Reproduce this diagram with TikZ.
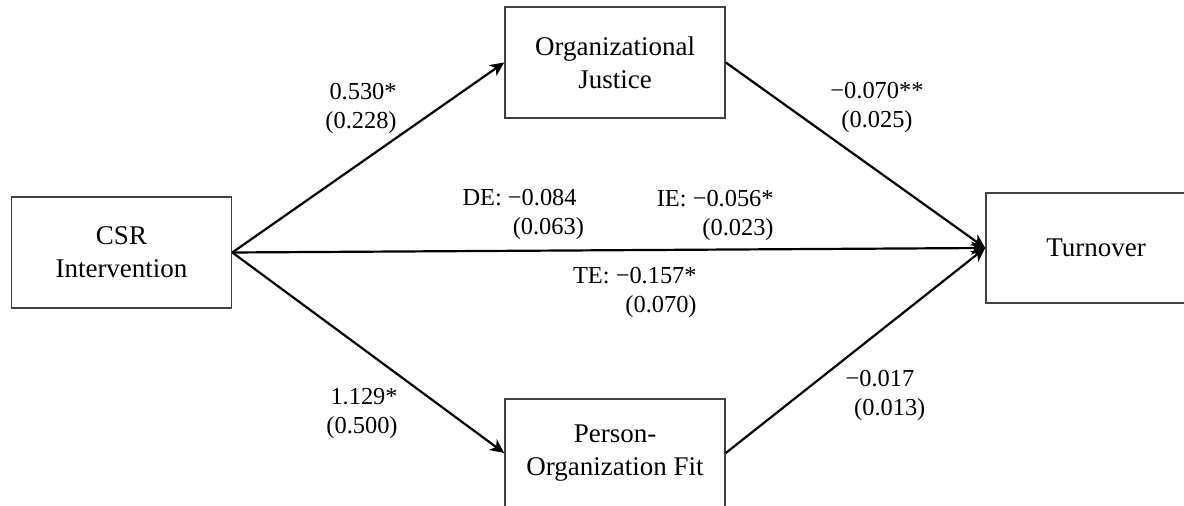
\documentclass[tikz,border=0pt]{standalone}
\usepackage{fontspec}
\setmainfont{Liberation Serif}
\usetikzlibrary{arrows.meta}

\begin{document}
\begin{tikzpicture}[
    x=0.5pt, y=-0.5pt,
    box/.style={draw=black!75, line width=0.8pt, minimum width=110pt,
                minimum height=55.5pt, inner sep=0pt, align=center,
                font=\fontsize{13.5}{16.5}\selectfont},
    lab/.style={inner sep=0pt, font=\fontsize{12.2}{14.5}\selectfont},
    arr/.style={-{Stealth[length=7pt,width=6.5pt,inset=2pt]},
                line width=1.1pt, black}
  ]
    \useasboundingbox (0,0) rectangle (1184,506);

    \node[box] (csr)  at (121.5,252.5) {CSR\\Intervention};
    \node[box] (oj)   at (615,62.5)    {Organizational\\Justice};
    \node[box, minimum height=54pt] (pof) at (615,453) {Person-\\Organization Fit};
    \node[box, minimum height=55pt] (turn) at (1096,248) {Turnover};

    \draw[arr] (csr.east) -- (oj.west);
    \draw[arr] (csr.east) -- (pof.west);
    \draw[arr] (csr.east) -- (turn.west);
    \draw[arr] (oj.east)  -- (turn.west);
    \draw[arr] (pof.east) -- (turn.west);

    % path coefficients
    \node[lab, align=right,  anchor=north east] (csroj)   at (397,83)  {0.530*\\(0.228)};
    \node[lab, align=center, anchor=north]      (ojturn)  at (877,82)  {−0.070**\\(0.025)};
    \node[lab, align=right,  anchor=north east] (csrpof)  at (398,388) {1.129*\\(0.500)};
    \node[lab, align=center, anchor=north]      (pofturn) at (880,370) {−0.017\\\hspace*{0.8em}(0.013)};
    \node[lab, align=right,  anchor=north east] (de) at (577,189) {DE: −0.084\\(0.063)\hspace*{-0.3em}};
    \node[lab, align=right,  anchor=north east] (ie) at (774,190) {IE: −0.056*\\(0.023)};
    \node[lab, align=right,  anchor=north east] (te) at (697,267) {TE: −0.157*\\(0.070)};
  \end{tikzpicture}
\end{document}
